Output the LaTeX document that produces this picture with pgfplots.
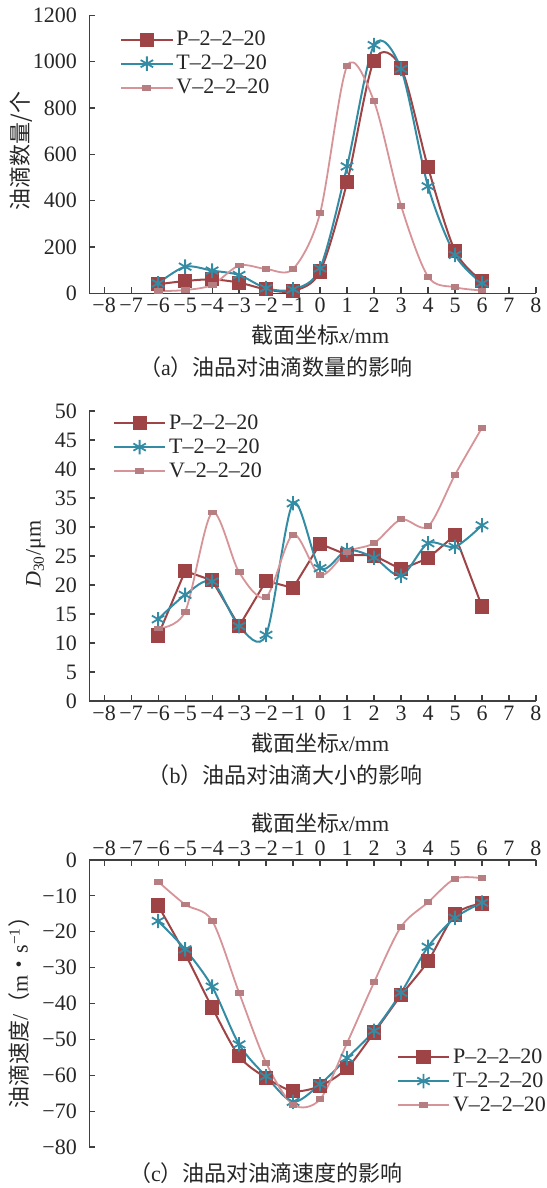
\documentclass[border=0pt]{standalone}
\usepackage{fontspec}
\setmainfont{Liberation Serif}
\newfontfamily\cjk{Noto Sans CJK SC}
\usepackage{pgfplots}
\pgfplotsset{compat=1.18}

\definecolor{cP}{RGB}{158,68,70}
\definecolor{cT}{RGB}{52,140,164}
\definecolor{cV}{RGB}{214,148,152}
\definecolor{axgray}{RGB}{64,64,64}

\newcommand{\fs}{\fontsize{11}{13}\selectfont}

\pgfplotsset{
  panel/.style={
    scale only axis, width=223.35pt,
    xmin=-8.55, xmax=8,
    xtick={-8,-7,...,8},
    xticklabels={−8,−7,−6,−5,−4,−3,−2,−1,0,1,2,3,4,5,6,7,8},
    axis y line*=left,
    tick align=inside,
    major tick length=3pt,
    axis line style={axgray, line width=0.6pt},
    every tick/.style={axgray, line width=0.6pt},
    tick label style={font=\fs, text=black!85},
    label style={font=\fs, text=black!85},
    yticklabel style={inner sep=1pt, xshift=-5pt},
    /pgf/number format/assume math mode=true,
    /pgf/number format/1000 sep={},
    clip=false,
    legend cell align=left,
    legend style={draw=none, fill=none, inner sep=0pt, font=\fs, text=black!85,
      row sep=1pt, column sep=1pt,
      nodes={inner sep=0.5pt, text height=8pt, text depth=2pt}},
    legend image code/.code={\draw[mark repeat=2,mark phase=2]
      plot coordinates {(0pt,0pt) (12.75pt,0pt) (25.5pt,0pt)};},
  },
  sP/.style={cP, line width=1pt, mark=square*, mark size=3.3pt,
    mark options={fill=cP, draw=cP, line width=0.5pt}},
  sT/.style={cT, line width=1pt, mark=asterisk, mark size=3.6pt,
    mark options={line width=0.9pt}},
  sV/.style={cV, line width=0.9pt, mark=square*, mark size=1.3pt,
    mark options={xscale=1.35, yscale=0.8, fill=cV!85!black, draw=cV!85!black}},
}

\begin{document}
\begin{tikzpicture}
\useasboundingbox (0,0) rectangle (273pt,594pt);

% ---------- (a) droplet count ----------
\begin{axis}[panel,
  at={(44.65pt,447.35pt)}, anchor=south west, height=138.9pt,
  ymin=0, ymax=1200, ytick={0,200,...,1200},
  axis x line*=bottom,
  xticklabel style={inner sep=1pt, yshift=-1.2pt},
  xlabel={{\cjk 截面坐标}\textit{x}/mm},
  xlabel style={at={(axis description cs:0.5166,-0.150)}, anchor=center},
  ylabel={{\cjk 油滴数量/个}},
  ylabel style={at={(axis description cs:-0.1518,0.512)}, anchor=center},
  legend style={at={(axis description cs:0.0687,0.954)}, anchor=north west},
]
\addplot[sP, smooth] coordinates {
  (-6,39) (-5,53) (-4,60) (-3,46) (-2,17) (-1,10) (0,94)
  (1,479) (2,1005) (3,974) (4,544) (5,183) (6,53)};
\addlegendentry{P–2–2–20}
\addplot[sT, smooth] coordinates {
  (-6,43) (-5,115) (-4,98) (-3,79) (-2,22) (-1,17) (0,108)
  (1,548) (2,1072) (3,969) (4,462) (5,166) (6,43)};
\addlegendentry{T–2–2–20}
\addplot[sV, smooth] coordinates {
  (-6,9) (-5,14) (-4,36) (-3,120) (-2,105) (-1,105) (0,346)
  (1,981) (2,829) (3,379) (4,72) (5,26) (6,12)};
\addlegendentry{V–2–2–20}
\end{axis}
\node[font=\fs, text=black!85] at (138pt,410.65pt)
  {{\cjk （}a{\cjk ）油品对油滴数量的影响}};

% ---------- (b) droplet size ----------
\begin{axis}[panel,
  at={(44.65pt,243.5pt)}, anchor=south west, height=145pt,
  ymin=0, ymax=50, ytick={0,5,...,50},
  axis x line*=bottom,
  xticklabel style={inner sep=1pt, yshift=-1.2pt},
  xlabel={{\cjk 截面坐标}\textit{x}/mm},
  xlabel style={at={(axis description cs:0.5166,-0.145)}, anchor=center},
  ylabel={\textit{D}\textsubscript{30}/μm},
  ylabel style={at={(axis description cs:-0.120,0.507)}, anchor=center},
  legend style={at={(axis description cs:0.0524,0.9976)}, anchor=north west},
]
\addplot[sP] coordinates {
  (-6,11.3) (-5,22.4) (-4,20.8) (-3,12.9) (-2,20.7) (-1,19.5) (0,27.1)
  (1,25.2) (2,25.1) (3,22.7) (4,24.6) (5,28.6) (6,16.3)};
\addlegendentry{P–2–2–20}
\addplot[sT, smooth] coordinates {
  (-6,14.1) (-5,18.3) (-4,20.6) (-3,12.9) (-2,11.4) (-1,34.1) (0,22.9)
  (1,26.0) (2,24.7) (3,21.6) (4,27.2) (5,26.6) (6,30.3)};
\addlegendentry{T–2–2–20}
\addplot[sV, smooth] coordinates {
  (-6,12.5) (-5,15.4) (-4,32.5) (-3,22.2) (-2,17.9) (-1,28.7) (0,21.7)
  (1,25.7) (2,27.2) (3,31.3) (4,30.1) (5,39.0) (6,47.1)};
\addlegendentry{V–2–2–20}
\end{axis}
\node[font=\fs, text=black!85] at (142.5pt,206.5pt)
  {{\cjk （}b{\cjk ）油品对油滴大小的影响}};

% ---------- (c) droplet velocity ----------
\begin{axis}[panel,
  at={(44.65pt,20.5pt)}, anchor=south west, height=143.5pt,
  ymin=-80, ymax=0, ytick={-80,-70,...,0},
  yticklabels={−80,−70,−60,−50,−40,−30,−20,−10,0},
  axis x line*=top,
  xticklabel style={inner sep=1pt, yshift=0.85pt},
  xlabel={{\cjk 截面坐标}\textit{x}/mm},
  xlabel style={at={(axis description cs:0.5166,1.129)}, anchor=center},
  ylabel={{\cjk 油滴速度}/{\cjk （}m{\cjk ・}s\textsuperscript{−1}{\cjk ）}},
  ylabel style={at={(axis description cs:-0.1567,0.488)}, anchor=center},
  legend style={at={(axis description cs:0.688,0.353)}, anchor=north west},
]
\addplot[sP, smooth] coordinates {
  (-6,-12.7) (-5,-26.2) (-4,-41.1) (-3,-54.7) (-2,-60.7) (-1,-64.4) (0,-63.0)
  (1,-58.0) (2,-48.1) (3,-37.7) (4,-28.2) (5,-15.2) (6,-12.1)};
\addlegendentry{P–2–2–20}
\addplot[sT, smooth] coordinates {
  (-6,-17.0) (-5,-24.9) (-4,-35.3) (-3,-51.4) (-2,-60.3) (-1,-67.4) (0,-62.5)
  (1,-55.2) (2,-47.6) (3,-37.0) (4,-24.2) (5,-16.1) (6,-11.9)};
\addlegendentry{T–2–2–20}
\addplot[sV, smooth] coordinates {
  (-6,-6.0) (-5,-12.4) (-4,-16.9) (-3,-37.0) (-2,-56.5) (-1,-68.2) (0,-66.7)
  (1,-51.0) (2,-34.1) (3,-18.6) (4,-11.8) (5,-5.2) (6,-5.1)};
\addlegendentry{V–2–2–20}
\end{axis}
\node[font=\fs, text=black!85] at (133pt,7.5pt)
  {{\cjk （}c{\cjk ）油品对油滴速度的影响}};
\end{tikzpicture}
\end{document}
